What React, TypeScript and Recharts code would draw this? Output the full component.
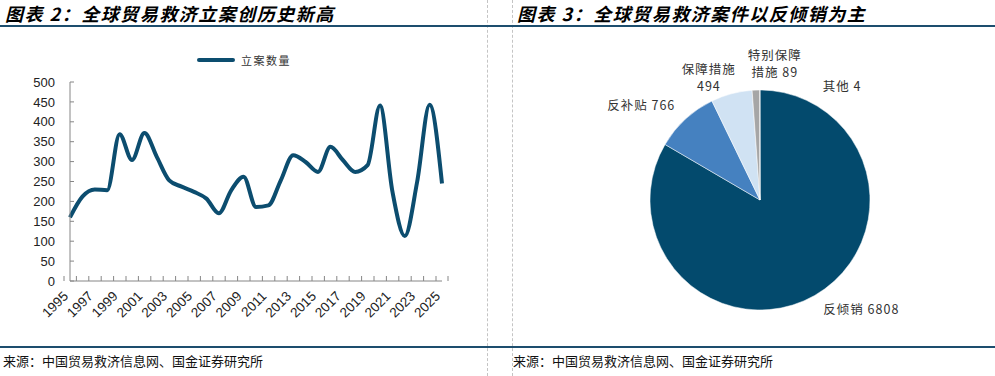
import React from 'react';
import { LineChart, Line, XAxis, YAxis, PieChart, Pie, Cell } from 'recharts';

// 图表 2 data
const years = [
  '1995', '1996', '1997', '1998', '1999', '2000', '2001', '2002', '2003', '2004',
  '2005', '2006', '2007', '2008', '2009', '2010', '2011', '2012', '2013', '2014',
  '2015', '2016', '2017', '2018', '2019', '2020', '2021', '2022', '2023', '2024', '2025',
];
const cases = [
  160, 212, 230, 228, 369, 304, 372, 312, 253, 237,
  224, 207, 170, 228, 262, 186, 190, 253, 316, 299,
  274, 337, 304, 274, 291, 441, 225, 113, 250, 443, 245,
];
const yTicks = [0, 50, 100, 150, 200, 250, 300, 350, 400, 450, 500];

// 图表 3 data
const caseTypes = ['反倾销', '反补贴', '保障措施', '特别保障措施', '其他'];
const caseCounts = [6808, 766, 494, 89, 4];

const sliceColors = ['#034a6d', '#4581c0', '#d0e2f3', '#a6a6a6', '#7f7f7f'];
// label placement tweaks (degrees off the slice middle, distance from centre, line break)
const labelTurn = [13, 8.6, 7.8, -8.4, -36];
const labelDist = [149, 152, 132, 136, 140];
const labelBreak = [0, 0, 4, 4, 0];

const lineData = years.map((y, i) => ({ year: y, value: cases[i] }));
const pieData = caseTypes.map((n, i) => ({ name: n, value: caseCounts[i] }));

const CJK = '"Noto Sans CJK SC", "Noto Sans", sans-serif';
const NUM = '"Liberation Sans", Arial, sans-serif';
const BLUE = '#0c4d6f';
const AXIS = '#868686';

const CHART_W = 487;
const PLOT_LEFT = 70;
const PLOT_RIGHT = 45;
const HALF_STEP = (CHART_W - PLOT_LEFT - PLOT_RIGHT) / years.length / 2;

const YearTick = (props: any) => {
  const { x, y, payload, index } = props;
  const h = typeof payload.offset === 'number' && payload.offset > 0 ? payload.offset : HALF_STEP;
  const tx = x - 1;
  const ty = y + 16;
  return (
    <g>
      <line x1={x - h} y1={y} x2={x - h} y2={y - 5} stroke={AXIS} />
      {index === years.length - 1 && <line x1={x + h} y1={y} x2={x + h} y2={y - 5} stroke={AXIS} />}
      {index % 2 === 0 && (
        <text
          x={tx}
          y={ty}
          textAnchor="end"
          fontSize={13.5}
          fontFamily={NUM}
          fill="#222"
          transform={`rotate(-45 ${tx} ${ty})`}
        >
          {payload.value}
        </text>
      )}
    </g>
  );
};

const renderPieLabel = (p: any) => {
  const { cx, cy, midAngle, index } = p;
  const a = ((midAngle + labelTurn[index]) * Math.PI) / 180;
  const r = labelDist[index];
  const x = cx + r * Math.cos(a);
  const y = cy - r * Math.sin(a);
  const text = `${caseTypes[index]} ${caseCounts[index]}`;
  const brk = labelBreak[index];
  const lines = brk ? [text.slice(0, brk), text.slice(brk).trim()] : [text];
  return (
    <text x={x} y={y} textAnchor="middle" fontSize={12.5} letterSpacing={1} fontFamily={CJK} fill="#333">
      {lines.map((l, i) => (
        <tspan key={i} x={x} dy={i === 0 ? (lines.length === 1 ? '0.35em' : '-0.375em') : '1.38em'}>
          {l}
        </tspan>
      ))}
    </text>
  );
};

const Title = ({ left, text }: { left: number; text: string }) => (
  <div
    style={{
      position: 'absolute',
      left,
      top: 0,
      fontFamily: CJK,
      fontSize: 18,
      letterSpacing: 1.5,
      fontWeight: 700,
      fontStyle: 'italic',
      color: '#000',
      whiteSpace: 'nowrap',
    }}
  >
    {text}
  </div>
);

const Source = ({ left }: { left: number }) => (
  <div
    style={{
      position: 'absolute',
      left,
      top: 351,
      fontFamily: CJK,
      fontSize: 13,
      color: '#111',
      whiteSpace: 'nowrap',
    }}
  >
    来源：中国贸易救济信息网、国金证券研究所
  </div>
);

export default function App() {
  return (
    <div style={{ position: 'absolute', left: 0, top: 0, width: 995, height: 376, background: '#fff', overflow: 'hidden' }}>
      {/* dashed dividers */}
      <div style={{ position: 'absolute', left: 487, top: 0, height: 376, borderLeft: '1px dashed #c4c4c4' }} />
      <div style={{ position: 'absolute', left: 512, top: 0, height: 376, borderLeft: '1px dashed #c4c4c4' }} />
      {/* header and footer rules */}
      <div style={{ position: 'absolute', left: 0, top: 25, width: 995, height: 2, background: '#1d4e6e' }} />
      <div style={{ position: 'absolute', left: 0, top: 346, width: 995, height: 2, background: '#1d4e6e' }} />

      <Title left={5} text="图表 2：全球贸易救济立案创历史新高" />
      <Title left={517} text="图表 3：全球贸易救济案件以反倾销为主" />

      {/* legend of left chart */}
      <div style={{ position: 'absolute', left: 197, top: 52, display: 'flex', alignItems: 'center' }}>
        <div style={{ width: 38, height: 4, background: BLUE, borderRadius: 2 }} />
        <span style={{ marginLeft: 6, fontFamily: CJK, fontSize: 11, letterSpacing: 1.5, color: '#333' }}>立案数量</span>
      </div>

      <div style={{ position: 'absolute', left: 0, top: 0 }}>
        <LineChart width={CHART_W} height={346} data={lineData} margin={{ top: 82, right: PLOT_RIGHT, bottom: 25, left: 0 }}>
          <XAxis
            dataKey="year"
            interval={0}
            height={40}
            tickLine={false}
            tickSize={0}
            tickMargin={0}
            axisLine={{ stroke: AXIS }}
            tick={<YearTick />}
          />
          <YAxis
            domain={[0, 500]}
            ticks={yTicks}
            width={PLOT_LEFT}
            tickSize={-4}
            tickMargin={19}
            axisLine={{ stroke: AXIS }}
            tickLine={{ stroke: AXIS }}
            tick={{ fontSize: 13, fontFamily: NUM, fill: '#222' }}
            interval={0}
          />
          <Line type="monotone" dataKey="value" stroke={BLUE} strokeWidth={4} dot={false} isAnimationActive={false} />
        </LineChart>
      </div>

      <div style={{ position: 'absolute', left: 512, top: 0 }}>
        <PieChart width={483} height={346}>
          <Pie
            data={pieData}
            dataKey="value"
            nameKey="name"
            cx={243}
            cy={195}
            outerRadius={110}
            startAngle={90}
            endAngle={-270}
            stroke="#fff"
            strokeWidth={0.5}
            label={renderPieLabel}
            labelLine={false}
            isAnimationActive={false}
          >
            {pieData.map((d, i) => (
              <Cell key={d.name} fill={sliceColors[i]} />
            ))}
          </Pie>
        </PieChart>
      </div>

      <Source left={3} />
      <Source left={513} />
    </div>
  );
}
